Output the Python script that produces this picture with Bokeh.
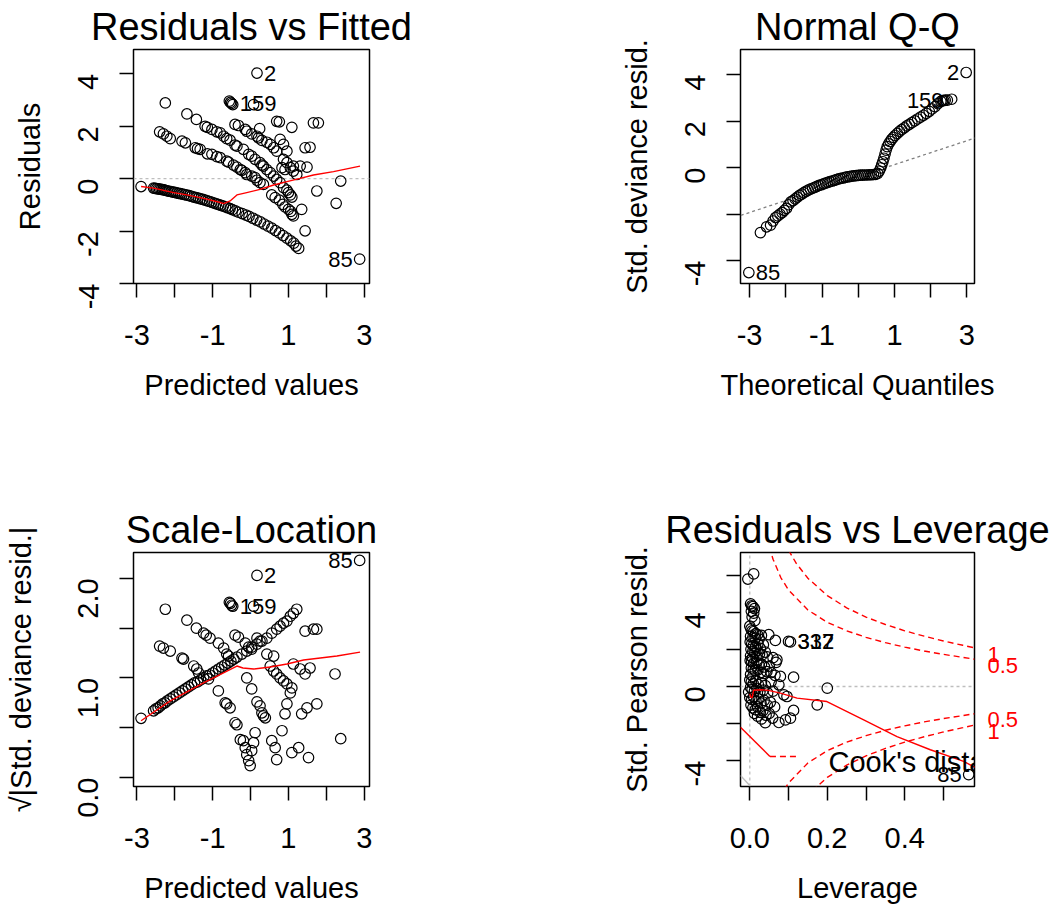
from bokeh.plotting import figure
from bokeh.layouts import gridplot
from bokeh.models import Range1d, FixedTicker, LinearAxis
from bokeh.core.properties import value
from bokeh.embed import file_html
from bokeh.resources import INLINE

FONT = "Liberation Sans"

# ---------------- Panel 1: Residuals vs Fitted ----------------
# band of zero counts (dense lower curve)
rvf_b0_x = [-2.89, -2.56, -2.52, -2.48, -2.44, -2.40, -2.36, -2.32, -2.28, -2.24, -2.20, -2.15, -2.10, -2.05,
            -2.00, -1.95, -1.90, -1.85, -1.80, -1.74, -1.68, -1.62, -1.56, -1.50, -1.44, -1.38, -1.32,
            -1.26, -1.20, -1.14, -1.08, -1.02, -0.96, -0.90, -0.84, -0.78, -0.72, -0.66, -0.60, -0.54,
            -0.48, -0.40, -0.32, -0.22, -0.12, -0.04, 0.06, 0.16, 0.26, 0.36, 0.46, 0.56, 0.66, 0.76,
            0.86, 0.96, 1.06, 1.14, 1.20, 1.27]
rvf_b0_y = [-0.30, -0.36, -0.37, -0.38, -0.39, -0.40, -0.41, -0.42, -0.43, -0.45, -0.46, -0.48, -0.49, -0.51,
            -0.52, -0.54, -0.56, -0.57, -0.59, -0.61, -0.63, -0.65, -0.67, -0.70, -0.72, -0.74, -0.77,
            -0.79, -0.82, -0.85, -0.87, -0.90, -0.93, -0.96, -0.99, -1.02, -1.05, -1.08, -1.11, -1.14,
            -1.18, -1.23, -1.28, -1.33, -1.39, -1.44, -1.51, -1.58, -1.65, -1.73, -1.81, -1.89, -1.98, -2.07,
            -2.17, -2.27, -2.37, -2.46, -2.57, -2.66]
# remaining points
rvf_x = [-2.40, -2.30, -2.21, -2.12, -1.81, -1.72, -1.46, -1.40, -1.33, -1.14, -1.02, -0.89, -0.80, -0.63,
         -0.58, -0.45, -0.36, -0.27, -0.23, -0.14, -0.10, 0.03, 0.12, 0.17, 0.25, 0.34, 0.56, 0.65, 0.76,
         0.85, 0.91, 1.00, 1.06, 1.09, 1.13, 1.35, 1.44,
         -1.68, -1.43, -1.20, -1.14, -1.02, -0.89, -0.80, -0.71, -0.63, -0.54, -0.41, -0.36, -0.19, -0.05,
         0.03, 0.12, 0.25, 0.30, 0.34, 0.43, 0.52, 0.61, 0.69, 0.78, 0.87, 0.96, 1.00, 1.05, 1.09,
         -0.41, -0.32, -0.14, -0.10, 0.03, 0.17, 0.21, 0.30, 0.43, 0.52, 0.61, 0.69, 0.87, 0.96, 1.05,
         1.13, 1.22,
         -0.56, -0.53, -0.50, -0.47, 0.08, 0.24, 0.69, 0.76, 0.78, 0.87, 0.96, 1.09,
         0.83, 0.91, 1.13, 1.31, 1.49, 1.44, 1.57, 1.66, 1.79, 1.75, 2.26, 2.38, 2.88, -2.25, 0.17]
rvf_y = [1.79, 1.71, 1.62, 1.53, 1.43, 1.37, 1.18, 1.15, 1.12, 0.95, 0.93, 0.84, 0.80, 0.67,
         0.63, 0.52, 0.44, 0.35, 0.32, 0.23, 0.16, 0.10, 0.04, -0.06, -0.15, -0.22, -0.62, -0.72, -0.82,
         -0.98, -1.08, -1.17, -1.25, -1.36, -1.42, -1.17, -1.99,
         2.47, 2.26, 2.00, 1.96, 1.88, 1.79, 1.75, 1.62, 1.53, 1.47, 1.28, 1.24, 1.12, 0.93,
         0.86, 0.74, 0.61, 0.52, 0.48, 0.35, 0.23, 0.10, -0.03, -0.15, -0.34, -0.44, -0.53, -0.62, -0.70,
         2.07, 2.03, 1.88, 1.81, 1.71, 1.62, 1.56, 1.46, 1.39, 1.31, 1.18, 1.05, 0.74, 0.61, 0.42,
         0.29, 0.16,
         2.96, 2.91, 2.87, 2.83, 2.83, 1.91, 2.19, 2.17, 1.50, 1.31, 1.05, 1.96,
         0.42, 0.35, 0.48, 0.48, 0.44, 1.18, 1.20, 2.13, 2.13, -0.47, -0.94, -0.09, -3.07, 2.89, 4.03]
rvf_smooth_x = [-2.89, -2.56, -2.03, -1.68, -1.24, -0.80, -0.71, -0.54, -0.36, -0.10, 0.25, 0.61, 0.96, 1.31, 1.66, 2.19, 2.89]
rvf_smooth_y = [-0.30, -0.36, -0.53, -0.62, -0.75, -0.91, -0.95, -0.85, -0.62, -0.53, -0.41, -0.24, -0.11, 0.01, 0.14, 0.27, 0.48]
rvf_id_x = [0.17, -0.47, 2.88]
rvf_id_y = [4.03, 2.86, -3.07]
rvf_id_text = ["2", "159", "85"]

# ---------------- Panel 2: Normal Q-Q ----------------
qq_x = [-3.02, -2.70, -2.53, -2.42, -2.35, -2.28, -2.22, -2.16, -2.10, -2.04, -1.98, -1.92, -1.86, -1.80,
        -1.74, -1.68, -1.62, -1.56, -1.50, -1.44, -1.38, -1.32, -1.26, -1.20, -1.14, -1.08, -1.02,
        -0.96, -0.90, -0.84, -0.78, -0.72, -0.66, -0.60, -0.54, -0.48, -0.42, -0.36, -0.30, -0.24,
        -0.18, -0.12, -0.06, 0.00, 0.06, 0.12, 0.18, 0.24, 0.30, 0.36, 0.42, 0.48, 0.54, 0.58, 0.62,
        0.65, 0.68, 0.71, 0.74, 0.77, 0.80, 0.84, 0.88, 0.92, 0.97, 1.02, 1.08, 1.14, 1.20, 1.27,
        1.34, 1.41, 1.48, 1.56, 1.64, 1.72, 1.80, 1.88, 1.96, 2.04, 2.12, 2.20, 2.28, 2.32, 2.36,
        2.40, 2.46, 2.58, 2.98]
qq_y = [-4.52, -2.80, -2.55, -2.48, -2.30, -2.15, -2.08, -2.00, -1.94, -1.84, -1.76, -1.60, -1.48, -1.42,
        -1.35, -1.27, -1.20, -1.14, -1.08, -1.02, -0.97, -0.93, -0.89, -0.85, -0.81, -0.77, -0.74,
        -0.70, -0.67, -0.64, -0.61, -0.58, -0.55, -0.52, -0.49, -0.47, -0.45, -0.42, -0.40, -0.39,
        -0.37, -0.36, -0.35, -0.34, -0.33, -0.33, -0.32, -0.32, -0.31, -0.31, -0.30, -0.29, -0.25, -0.15,
        -0.02, 0.12, 0.25, 0.40, 0.58, 0.75, 0.90, 1.02, 1.12, 1.21, 1.30, 1.38, 1.47, 1.56, 1.63, 1.71,
        1.79, 1.86, 1.93, 2.01, 2.09, 2.17, 2.25, 2.33, 2.42, 2.52, 2.62, 2.75, 2.85, 2.88, 2.88,
        2.90, 2.90, 2.94, 4.09]
qq_line_x = [-3.4, 3.4]
qq_line_y = [-2.14, 1.36]
qq_id_x = [2.98, 2.55, -3.02]
qq_id_y = [4.09, 2.88, -4.52]
qq_id_text = ["2", "159", "85"]

# ---------------- Panel 3: Scale-Location ----------------
sl_b0_x = [-2.89, -2.56, -2.50, -2.44, -2.38, -2.32, -2.26, -2.20, -2.12, -2.04, -1.96, -1.88, -1.80, -1.72,
           -1.64, -1.56, -1.48, -1.40, -1.32, -1.24, -1.16, -1.08, -1.00, -0.92, -0.84, -0.76, -0.68,
           -0.60, -0.52, -0.44, -0.36, -0.23, -0.10, 0.03, 0.17, 0.30, 0.43, 0.56, 0.69, 0.78, 0.87,
           0.96, 1.05, 1.13, 1.22]
sl_b0_y = [0.595, 0.67, 0.69, 0.70, 0.72, 0.74, 0.75, 0.77, 0.79, 0.81, 0.83, 0.85, 0.87, 0.89,
           0.91, 0.93, 0.95, 0.96, 0.98, 1.00, 1.02, 1.03, 1.05, 1.07, 1.09, 1.11, 1.13, 1.15, 1.17,
           1.19, 1.21, 1.24, 1.27, 1.31, 1.34, 1.37, 1.40, 1.45, 1.49, 1.52, 1.55, 1.57, 1.62, 1.65, 1.69]
sl_x = [-2.40, -2.30, -2.12, -1.81, -1.77, -1.50, -1.42, -1.37, -1.11, -0.85, -0.67, -0.63, -0.54,
        -0.41, -0.36, -0.27, -0.19, -0.14, -0.10, -0.05, -0.01,
        -1.68, -1.43, -1.24, -1.17, -1.07, -0.85, -0.71, -0.63, -0.58, -0.10, 0.03, 0.17, 0.25, 0.30,
        0.34, 0.39, 0.12, 0.08, 0.03, 0.56, 0.65, 0.69, 0.83, 0.91, 0.96, 1.05, 1.09,
        -0.41, -0.32, -0.14, -0.05, 0.03, 0.17, 0.25, 0.61, 0.43, 0.52, 0.61, 0.69, 0.78, 0.87, 0.96,
        1.13, 1.31, 1.44, 1.57, 1.35, 1.49, 1.75, 1.09, 1.27, 1.53, 1.44, 1.66, 1.75, 2.23, 2.38,
        -2.25, -0.56, -0.53, -0.50, -0.47, 0.08, 0.17, 2.88]
sl_y = [1.32, 1.30, 1.27, 1.20, 1.19, 1.12, 1.09, 1.05, 0.99, 0.87, 0.75, 0.74, 0.70,
        0.55, 0.53, 0.38, 0.37, 0.30, 0.23, 0.17, 0.12,
        1.58, 1.50, 1.45, 1.43, 1.40, 1.35, 1.30, 1.24, 1.22, 1.00, 0.89, 0.76, 0.72, 0.65,
        0.62, 0.60, 0.45, 0.35, 0.27, 0.37, 0.30, 0.18, 0.47, 0.64, 0.74, 0.85, 0.90,
        1.43, 1.41, 1.35, 1.31, 1.29, 1.40, 1.37, 1.22, 1.24, 1.12, 1.07, 1.04, 1.00, 0.97, 0.94,
        1.14, 1.09, 1.04, 1.10, 0.64, 0.70, 0.74, 0.25, 0.30, 0.20, 1.47, 1.49, 1.49, 1.04, 0.39,
        1.69, 1.76, 1.75, 1.73, 1.72, 1.72, 2.03, 2.18]
sl_smooth_x = [-2.89, -2.12, -1.24, -0.36, -0.20, 0.08, 0.52, 0.96, 1.40, 1.84, 2.28, 2.89]
sl_smooth_y = [0.57, 0.77, 0.95, 1.12, 1.10, 1.09, 1.11, 1.14, 1.18, 1.20, 1.22, 1.26]
sl_id_x = [2.88, 0.17, -0.47]
sl_id_y = [2.18, 2.03, 1.72]
sl_id_text = ["85", "2", "159"]

# ---------------- Panel 4: Residuals vs Leverage ----------------
lev_x = [-0.005, 0.010, 0.002, 0.005, 0.008, 0.012, 0.004, 0.010, 0.006, 0.013,
         0.000, 0.003, 0.006, 0.010, 0.015, 0.020, 0.002, 0.008, 0.014, 0.024, 0.030, 0.049, 0.066, 0.100, 0.105,
         0.001, 0.005, 0.009, 0.015, 0.021, 0.027, 0.035, 0.003, 0.008, 0.013, 0.019, 0.025, 0.032, 0.040,
         0.045, 0.002, 0.007, 0.016, 0.060, 0.070, 0.068,
         0.001, 0.005, 0.010, 0.018, 0.024, 0.030, 0.038, 0.050, 0.004, 0.009, 0.014, 0.021, 0.028, 0.036,
         0.044, 0.055, 0.065, 0.079, 0.113, 0.002, 0.008,
         0.000, 0.004, 0.009, 0.015, 0.022, 0.030, 0.040, 0.075, 0.055, 0.002, 0.006, 0.012, 0.018, 0.026,
         0.035, 0.046, 0.060, 0.200, -0.003, 0.088, 0.096,
         0.000, 0.005, 0.010, 0.016, 0.022, 0.029, 0.037, 0.045, 0.053, 0.064, 0.003, 0.008, 0.014, 0.020,
         0.027, 0.034, 0.042, 0.050, 0.059, 0.030, 0.040, 0.075, 0.092, 0.105, 0.113, 0.174, 0.020, 0.012,
         0.565]
lev_y = [5.79, 6.07, 4.45, 4.35, 4.30, 4.20, 4.05, 3.95, 3.75, 3.55,
         3.25, 3.10, 3.00, 2.95, 2.85, 2.80, 2.70, 2.65, 2.60, 2.55, 2.75, 2.79, 2.48, 2.43, 2.40,
         2.40, 2.30, 2.20, 2.15, 2.30, 2.05, 2.25, 2.00, 1.90, 1.80, 1.95, 1.75, 1.70, 1.85,
         1.60, 1.65, 1.55, 1.60, 1.55, 1.44, 1.30,
         1.40, 1.35, 1.25, 1.30, 1.15, 1.20, 1.05, 1.10, 1.00, 0.95, 0.85, 0.90, 0.75, 0.70,
         0.80, 0.75, 0.60, 0.54, 0.50, 0.65, 0.55,
         0.35, 0.25, 0.15, 0.30, 0.10, 0.20, 0.05, 0.09, 0.25, -0.05, -0.15, -0.25, -0.10, -0.30,
         -0.20, -0.35, -0.25, -0.09, -0.30, -0.45, -0.54,
         -0.60, -0.70, -0.55, -0.80, -0.65, -0.90, -0.75, -1.00, -0.85, -1.10, -1.00, -1.15, -1.25, -1.10,
         -1.40, -1.30, -1.55, -1.45, -1.70, -1.75, -1.95, -1.94, -1.80, -1.71, -1.29, -0.99, -1.60, -1.45,
         -4.75]
lev_id_x = [0.105, 0.105]
lev_id_y = [2.42, 2.42]
lev_id_text = ["337", "312"]
cook_hi_x = [0.10, 0.12, 0.15, 0.20, 0.25, 0.30, 0.35, 0.40, 0.45, 0.50, 0.55, 0.58]
cook_hi_1 = [7.35, 6.63, 5.83, 4.90, 4.24, 3.74, 3.34, 3.00, 2.71, 2.45, 2.22, 2.08]
cook_hi_x5 = [0.05, 0.06, 0.08, 0.10, 0.15, 0.20, 0.25, 0.30, 0.35, 0.40, 0.45, 0.50, 0.55, 0.58]
cook_hi_05 = [7.55, 6.86, 5.87, 5.20, 4.12, 3.46, 3.00, 2.65, 2.36, 2.12, 1.91, 1.73, 1.57, 1.47]
cook_level_y = [1.75, 1.15, -1.80, -2.40]
cook_level_text = ["1", "0.5", "0.5", "1"]
lev_smooth_x = [0.000, 0.003, 0.006, 0.010, 0.027, 0.045, 0.079, 0.122, 0.199, 0.251, 0.294, 0.380, 0.466, 0.552, 0.585]
lev_smooth_y = [-0.40, -0.60, -0.60, -0.20, -0.18, -0.20, -0.36, -0.63, -0.81, -1.35, -1.80, -2.70, -3.41, -4.04, -4.40]
corner_x = [-0.024, -0.002]
corner_y = [-4.80, -5.30]

W = 531


def make_fig(width, height, xr, yr, borders, title, xlabel, ylabel, xticks, xlabels, yticks, ylabels):
    bl, br, bt, bb = borders
    p = figure(width=width, height=height, x_range=Range1d(*xr), y_range=Range1d(*yr),
               output_backend="svg", toolbar_location=None, title=title,
               min_border_left=bl, min_border_right=br, min_border_top=bt, min_border_bottom=bb)
    p.grid.visible = False
    p.outline_line_color = "black"
    p.outline_line_width = 1.5
    p.outline_line_alpha = 1.0
    p.background_fill_color = "white"
    p.border_fill_color = "white"
    p.title.text_font = FONT
    p.title.text_font_size = "38px"
    p.title.text_font_style = "normal"
    p.title.align = "center"
    p.title.standoff = 3
    p.title.text_color = "black"
    for ax in (p.xaxis[0], p.yaxis[0]):
        ax.axis_line_color = None
        ax.major_tick_line_color = "black"
        ax.major_tick_line_width = 1.5
        ax.major_tick_in = 0
        ax.major_tick_out = 14
        ax.minor_tick_line_color = None
        ax.major_label_text_font = FONT
        ax.major_label_text_font_size = "29px"
        ax.major_label_text_color = "black"
        ax.axis_label_text_font = FONT
        ax.axis_label_text_font_size = "29px"
        ax.axis_label_text_font_style = "normal"
        ax.axis_label_text_color = "black"
    p.xaxis.ticker = FixedTicker(ticks=xticks)
    p.xaxis.major_label_overrides = dict(zip(xticks, xlabels))
    p.yaxis.ticker = FixedTicker(ticks=yticks)
    p.yaxis.major_label_overrides = dict(zip(yticks, ylabels))
    p.yaxis.major_label_orientation = 1.5707963
    p.xaxis.major_label_standoff = 27
    p.yaxis.major_label_standoff = 31
    p.xaxis.axis_label_standoff = 21
    p.yaxis.axis_label_standoff = 20
    p.xaxis.axis_label = xlabel
    p.yaxis.axis_label = ylabel
    return p


def circles(p, x, y):
    p.scatter(x, y, marker="circle", size=10.5, fill_color=None, line_color="black", line_width=1.2)


def ids(p, x, y, t, align, xoff):
    p.text(x=x, y=y, text=t, text_font=value(FONT), text_font_size="22px", text_align=align,
           text_baseline="middle", x_offset=xoff, text_color="black")


# Panel 1
p1 = make_fig(W, 453, (-3.09, 3.14), (-4.0, 4.93), (133, 162, 48, 170),
              "Residuals vs Fitted", "Predicted values", "Residuals",
              [-3, -2, -1, 0, 1, 2, 3], ["-3", "", "-1", "", "1", "", "3"],
              [-4, -2, 0, 2, 4], ["-4", "-2", "0", "2", "4"])
p1.line([-3.09, 3.14], [0, 0], line_color="#bebebe", line_dash="3 3", line_width=1.3)
circles(p1, rvf_b0_x, rvf_b0_y)
circles(p1, rvf_x, rvf_y)
p1.line(rvf_smooth_x, rvf_smooth_y, line_color="red", line_width=1.4)
ids(p1, rvf_id_x[:2], rvf_id_y[:2], rvf_id_text[:2], "left", 7)
ids(p1, rvf_id_x[2:], rvf_id_y[2:], rvf_id_text[2:], "right", -7)

# Panel 2
p2 = make_fig(W, 453, (-3.25, 3.21), (-4.99, 5.08), (209, 87, 49, 170),
              "Normal Q-Q", "Theoretical Quantiles", "Std. deviance resid.",
              [-3, -2, -1, 0, 1, 2, 3], ["-3", "", "-1", "", "1", "", "3"],
              [-4, -2, 0, 2, 4], ["-4", "", "0", "2", "4"])
p2.line(qq_line_x, qq_line_y, line_color="#808080", line_dash="3 3", line_width=1.3)
circles(p2, qq_x, qq_y)
ids(p2, qq_id_x[:2], qq_id_y[:2], qq_id_text[:2], "right", -7)
ids(p2, qq_id_x[2:], qq_id_y[2:], qq_id_text[2:], "left", 7)

# Panel 3
p3 = make_fig(W, 454, (-3.09, 3.14), (-0.09, 2.26), (133, 162, 98, 121),
              "Scale-Location", "Predicted values", "\u221a|Std. deviance resid.|",
              [-3, -2, -1, 0, 1, 2, 3], ["-3", "", "-1", "", "1", "", "3"],
              [0.0, 0.5, 1.0, 1.5, 2.0], ["0.0", "", "1.0", "", "2.0"])
p3.yaxis.axis_label_standoff = 29
circles(p3, sl_b0_x, sl_b0_y)
circles(p3, sl_x, sl_y)
p3.line(sl_smooth_x, sl_smooth_y, line_color="red", line_width=1.4)
ids(p3, sl_id_x[:1], sl_id_y[:1], sl_id_text[:1], "right", -7)
ids(p3, sl_id_x[1:], sl_id_y[1:], sl_id_text[1:], "left", 7)

# Panel 4
p4 = make_fig(W, 454, (-0.024, 0.58), (-5.39, 7.22), (209, 88, 99, 121),
              "Residuals vs Leverage", "Leverage", "Std. Pearson resid.",
              [0.0, 0.1, 0.2, 0.3, 0.4, 0.5], ["0.0", "", "0.2", "", "0.4", ""],
              [-4, -2, 0, 2, 4, 6], ["-4", "", "0", "", "4", ""])
p4.line([-0.024, 0.58], [0, 0], line_color="#bebebe", line_dash="3 3", line_width=1.3)
p4.line([0, 0], [-5.39, 7.22], line_color="#bebebe", line_dash="3 3", line_width=1.3)
p4.line(corner_x, corner_y, line_color="#bebebe", line_width=1.4)
circles(p4, lev_x, lev_y)
p4.line(lev_smooth_x, lev_smooth_y, line_color="red", line_width=1.4)
p4.line(cook_hi_x, cook_hi_1, line_color="red", line_dash="6 4", line_width=1.4)
p4.line(cook_hi_x5, cook_hi_05, line_color="red", line_dash="6 4", line_width=1.4)
p4.line(cook_hi_x, [-v for v in cook_hi_1], line_color="red", line_dash="6 4", line_width=1.4)
p4.line(cook_hi_x5, [-v for v in cook_hi_05], line_color="red", line_dash="6 4", line_width=1.4)
p4.line([-0.024, 0.052], [-2.2, -3.77], line_color="red", line_width=1.4)
p4.line([0.052, 0.126], [-3.77, -3.77], line_color="red", line_dash="6 4", line_width=1.4)
ids(p4, lev_id_x, lev_id_y, lev_id_text, "left", 7)
p4.text(x=[0.203], y=[-4.05], text=["Cook's distance"], text_font=value(FONT), text_font_size="29px",
        text_align="left", text_baseline="middle", text_color="black")
ids(p4, [0.565], [-4.75], ["85"], "right", -7)
rax = LinearAxis(ticker=FixedTicker(ticks=cook_level_y),
                 major_label_overrides=dict(zip(cook_level_y, cook_level_text)))
rax.axis_line_color = None
rax.major_tick_line_color = None
rax.minor_tick_line_color = None
rax.major_tick_out = 0
rax.major_tick_in = 0
rax.major_label_standoff = 13
rax.major_label_text_font = FONT
rax.major_label_text_font_size = "22px"
rax.major_label_text_color = "red"
rax.major_label_orientation = "horizontal"
p4.add_layout(rax, "right")

grid = gridplot([[p1, p2], [p3, p4]], toolbar_location=None)
open("out.html", "w").write(file_html(grid, INLINE))
